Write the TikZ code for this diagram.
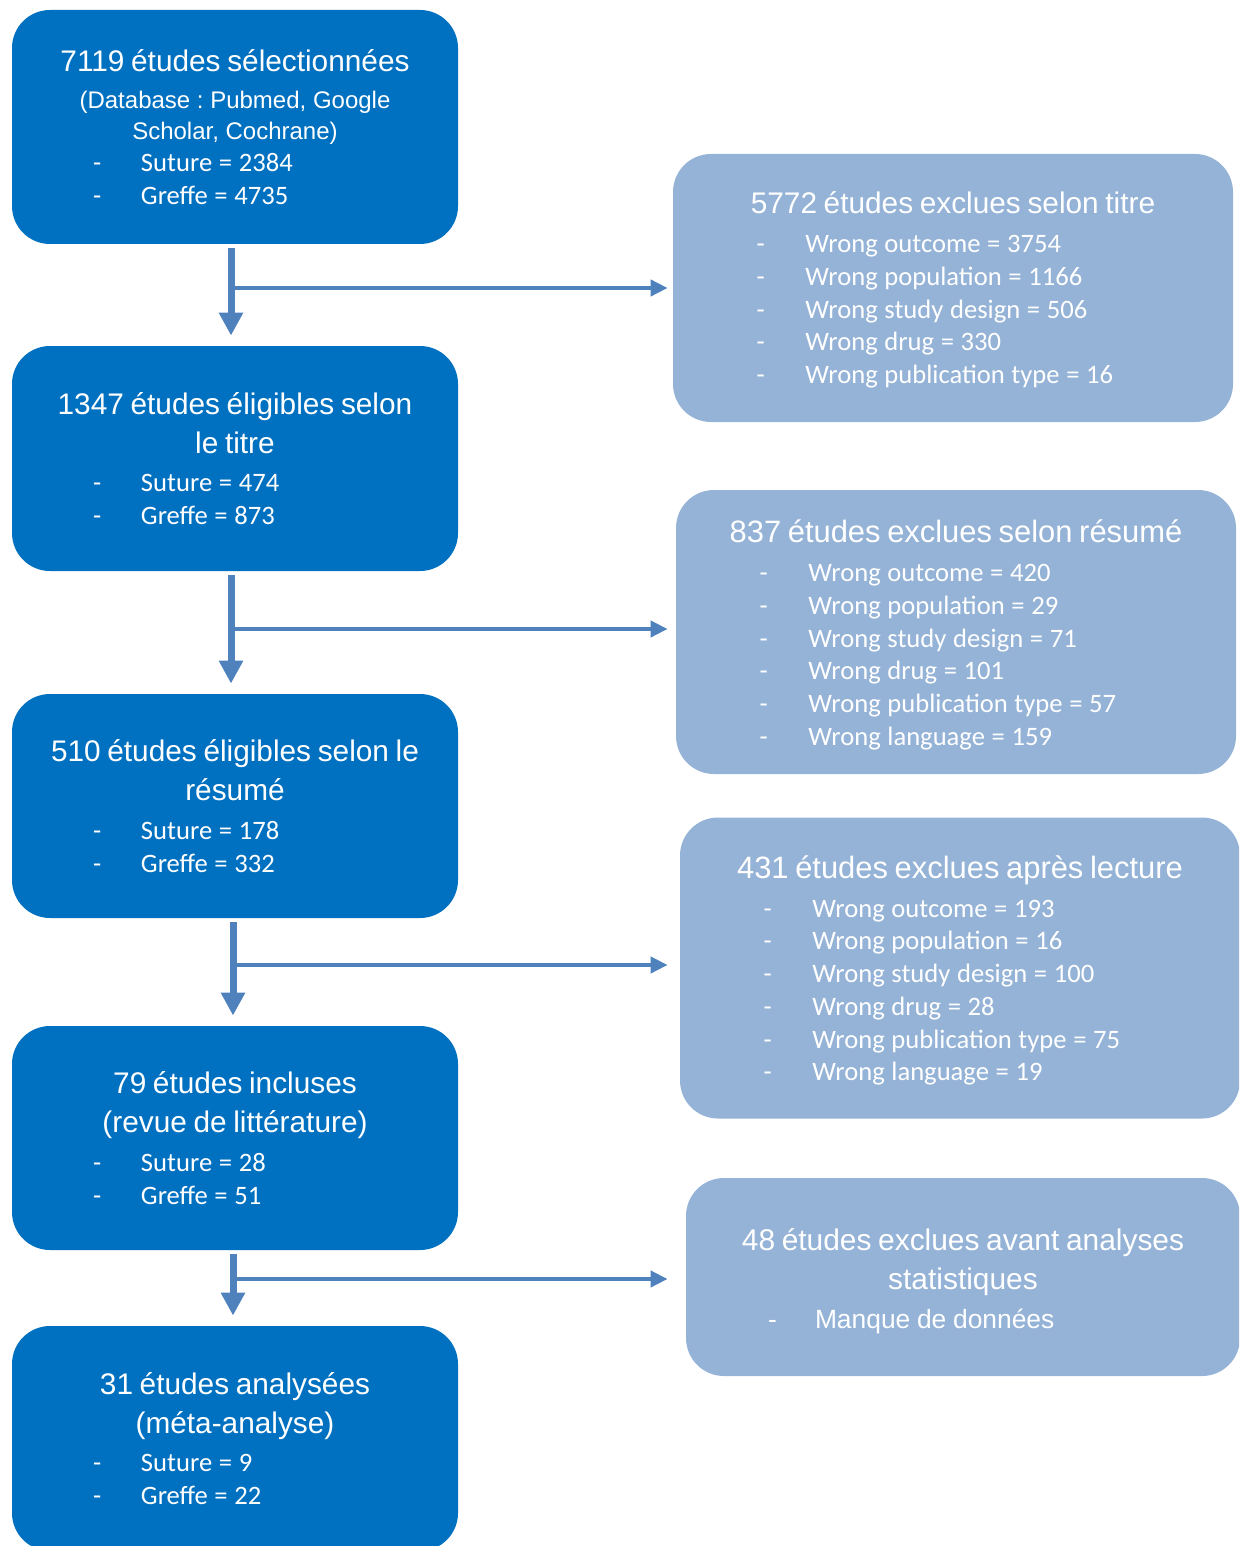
\documentclass[tikz,border=0pt]{standalone}
\usepackage{fontspec}
\setmainfont{Liberation Sans}
\newfontfamily\listfont{Carlito}
\usetikzlibrary{arrows.meta}
\frenchspacing

\definecolor{darkbox}{HTML}{0070C0}
\definecolor{lightbox}{HTML}{95B3D7}
\definecolor{arrowblue}{HTML}{4F81BD}

% indents of the dash and of the list text
\newlength{\dashin}
\newlength{\textin}

% heading lines, smaller heading lines and list lines
\newcommand{\hd}[2][14.9pt]{{\fontsize{#1}{19.5pt}\selectfont #2\par}\vspace{3pt}}
\newcommand{\subhd}[1]{{\fontsize{12pt}{15.5pt}\selectfont #1\par}}
\newcommand{\li}[1]{{\listfont\fontsize{13.3pt}{16.4pt}\selectfont\makebox[\hsize][l]{\hspace*{\dashin}\makebox[\dimexpr\textin-\dashin\relax][l]{-}#1}\par}}
\newcommand{\lia}[1]{{\fontsize{13.2pt}{16.25pt}\selectfont\makebox[\hsize][l]{\hspace*{\dashin}\makebox[\dimexpr\textin-\dashin\relax][l]{-}#1}\par}}

\begin{document}
\begin{tikzpicture}[x=0.5pt, y=-0.5pt,
    mainbox/.style={fill=darkbox, text=white, rounded corners=19pt, inner sep=0pt,
        minimum width=223pt, text width=223pt, align=center,
        execute at begin node={\setlength{\parindent}{0pt}%
            \setlength{\dashin}{40.5pt}\setlength{\textin}{64.5pt}}},
    exclbox/.style={fill=lightbox, text=white, rounded corners=19pt, inner sep=0pt,
        minimum width=280pt, text width=280pt, align=center,
        execute at begin node={\setlength{\parindent}{0pt}%
            \setlength{\dashin}{41.75pt}\setlength{\textin}{66.25pt}}},
    varrow/.style={draw=arrowblue, line width=3.5pt, shorten <=2pt, shorten >=5pt,
        -{Triangle[width=11.5pt, length=11.5pt]}},
    harrow/.style={draw=arrowblue, line width=2pt,
        -{Triangle[width=8pt, length=8.5pt]}}]
    \useasboundingbox (0,0) rectangle (1239,1546);
    \clip (0,0) rectangle (1239,1546);

    % Left column: studies kept at each step
    \node[mainbox, minimum height=117pt] (sel) at (235,127) {%
        \hd{7119 études sélectionnées}
        \subhd{(Database : Pubmed, Google\\Scholar, Cochrane)}
        \li{Suture = 2384}
        \li{Greffe = 4735}};
    \node[mainbox, minimum height=112.5pt] (tit) at (235,458.5) {%
        \hd{1347 études éligibles selon\\le titre}
        \li{Suture = 474}
        \li{Greffe = 873}};
    \node[mainbox, minimum height=112pt] (res) at (235,806) {%
        \hd{510 études éligibles selon le\\résumé}
        \li{Suture = 178}
        \li{Greffe = 332}};
    \node[mainbox, minimum height=112pt] (inc) at (235,1138) {%
        \hd{79 études incluses\\(revue de littérature)}
        \li{Suture = 28}
        \li{Greffe = 51}};
    \node[mainbox, minimum height=112.5pt] (ana) at (235,1438.5) {%
        \hd{31 études analysées\\(méta-analyse)}
        \li{Suture = 9}
        \li{Greffe = 22}};

    % Right column: excluded studies
    \node[exclbox, minimum height=134pt] (ex1) at (953,288) {%
        \hd{5772 études exclues selon titre}
        \li{Wrong outcome = 3754}
        \li{Wrong population = 1166}
        \li{Wrong study design = 506}
        \li{Wrong drug = 330}
        \li{Wrong publication type = 16}
        \vspace{-2pt}};
    \node[exclbox, minimum height=142pt] (ex2) at (956,632) {%
        \hd[15.45pt]{837 études exclues selon résumé}
        \li{Wrong outcome = 420}
        \li{Wrong population = 29}
        \li{Wrong study design = 71}
        \li{Wrong drug = 101}
        \li{Wrong publication type = 57}
        \li{Wrong language = 159}
        \vspace{-3pt}};
    \node[exclbox, minimum height=150.5pt] (ex3) at (960,968) {%
        \hd[15.45pt]{431 études exclues après lecture}
        \li{Wrong outcome = 193}
        \li{Wrong population = 16}
        \li{Wrong study design = 100}
        \li{Wrong drug = 28}
        \li{Wrong publication type = 75}
        \li{Wrong language = 19}
        \vspace{-2.5pt}};
    \node[exclbox, minimum height=99pt, minimum width=277pt, text width=277pt,
        execute at begin node={\setlength{\dashin}{41pt}\setlength{\textin}{64.5pt}}]
        (ex4) at (963,1277) {%
        \hd[14.95pt]{48 études exclues avant analyses\\statistiques}
        \lia{Manque de données}
        \vspace{-4pt}};

    % Arrows down the left column
    \draw[varrow] ([xshift=-2pt]sel.south) -- ([xshift=-2pt]tit.north);
    \draw[varrow] ([xshift=-2pt]tit.south) -- ([xshift=-2pt]res.north);
    \draw[varrow] ([xshift=-1pt]res.south) -- ([xshift=-1pt]inc.north);
    \draw[varrow] ([xshift=-1pt]inc.south) -- ([xshift=-1pt]ana.north);

    % Branches to the excluded studies
    \coordinate (j1) at (231,288);
    \coordinate (j2) at (231,629);
    \coordinate (j3) at (233,965);
    \coordinate (j4) at (233,1279);
    \draw[harrow, shorten >=2.5pt] (j1) -- (j1 -| ex1.west);
    \draw[harrow, shorten >=4pt] (j2) -- (j2 -| ex2.west);
    \draw[harrow, shorten >=6pt] (j3) -- (j3 -| ex3.west);
    \draw[harrow, shorten >=9pt] (j4) -- (j4 -| ex4.west);
\end{tikzpicture}
\end{document}
